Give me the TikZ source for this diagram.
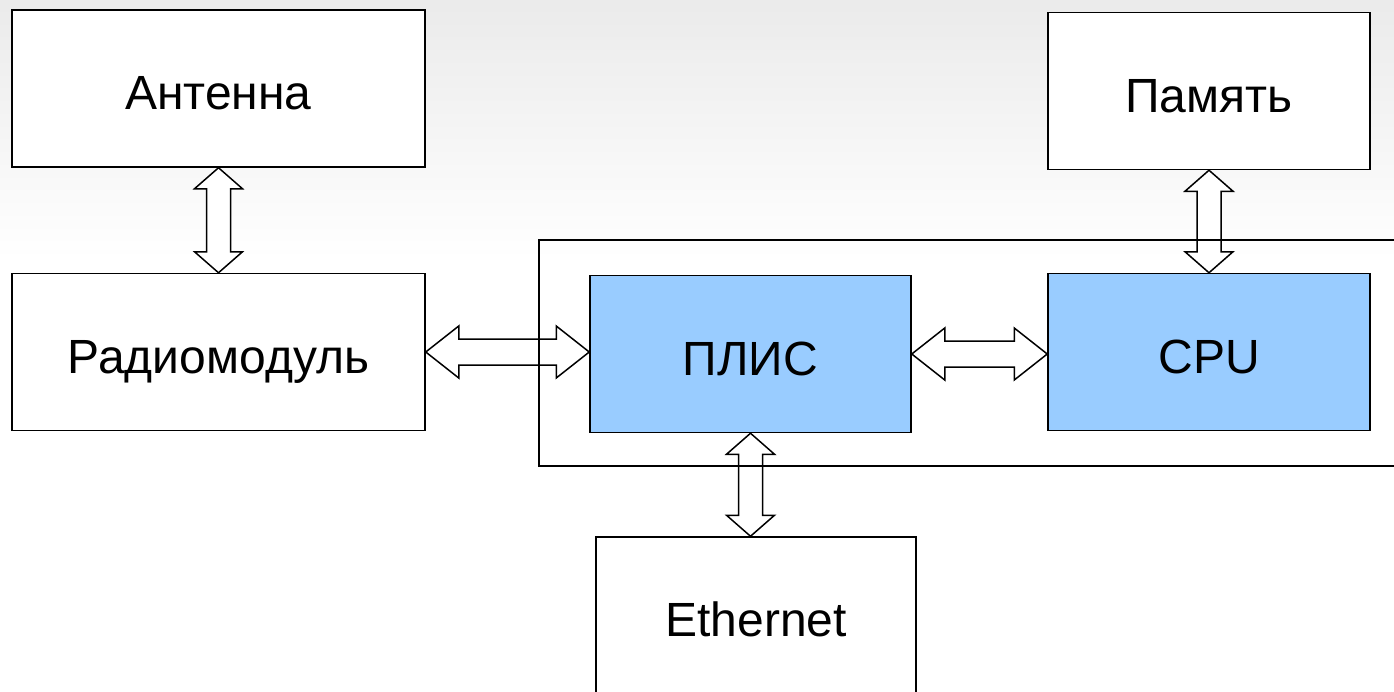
\documentclass[tikz,border=0pt]{standalone}
\usepackage{fontspec}
\setmainfont{Liberation Sans}
\usetikzlibrary{calc}
\tikzset{>=latex}
\definecolor{chipblue}{HTML}{99CCFF}

\tikzset{
  unit/.style={draw, line width=1.5pt, minimum width=321pt, minimum height=157pt,
    inner sep=0pt, text height=46pt, text depth=4pt, font=\fontsize{48}{52}\selectfont},
  plain/.style={unit, fill=white},
  chip/.style={unit, fill=chipblue},
  fat/.style={draw, line width=1.5pt, fill=white, line join=miter},
}

% hollow two-headed arrows, vertical (top box, bottom box)
\newcommand{\vlink}[2]{%
  \draw[fat] let \p1=(#1.south), \p2=(#2.north) in
    (\x1,\y1) -- (\x1+24pt,\y1-21pt) -- (\x1+12pt,\y1-21pt) -- (\x1+12pt,\y2+21pt)
    -- (\x1+24pt,\y2+21pt) -- (\x1,\y2) -- (\x1-24pt,\y2+21pt) -- (\x1-12pt,\y2+21pt)
    -- (\x1-12pt,\y1-21pt) -- (\x1-24pt,\y1-21pt) -- cycle;}
% and horizontal (left box, right box)
\newcommand{\hlink}[2]{%
  \draw[fat] let \p1=(#1.east), \p2=(#2.west) in
    (\x1,\y1) -- (\x1+33pt,\y1+26pt) -- (\x1+33pt,\y1+13pt) -- (\x2-33pt,\y1+13pt)
    -- (\x2-33pt,\y1+26pt) -- (\x2,\y1) -- (\x2-33pt,\y1-26pt) -- (\x2-33pt,\y1-13pt)
    -- (\x1+33pt,\y1-13pt) -- (\x1+33pt,\y1-26pt) -- cycle;}

\begin{document}
\begin{tikzpicture}[x=1pt, y=1pt]

  \useasboundingbox (0,0) rectangle (1394,-691);
  \clip (0,0) rectangle (1394,-691);
  \shade[top color=black!8, bottom color=white] (0,0) rectangle (1394,-260);

  % boxes
  \node[plain, minimum width=413pt] (ant)   at (218.5,-88.5)  {Антенна};
  \node[plain, minimum width=413pt] (radio) at (218.5,-352)   {Радиомодуль};
  \node[plain, minimum width=322pt] (mem)   at (1209,-91)     {Память};
  \node[chip]                       (fpga)  at (750.5,-354)   {ПЛИС};
  \node[chip, minimum width=322pt]  (cpu)   at (1209,-352)    {CPU};
  \node[plain, minimum width=320pt] (eth)   at (756,-615.5)   {Ethernet};

  % links
  \vlink{ant}{radio}
  \vlink{mem}{cpu}
  \vlink{fpga}{eth}
  \hlink{radio}{fpga}
  \hlink{fpga}{cpu}

  % board outline
  \node[draw, line width=1.5pt, minimum width=891pt, minimum height=226pt] (board)
    at (984.5,-353) {};

\end{tikzpicture}
\end{document}
